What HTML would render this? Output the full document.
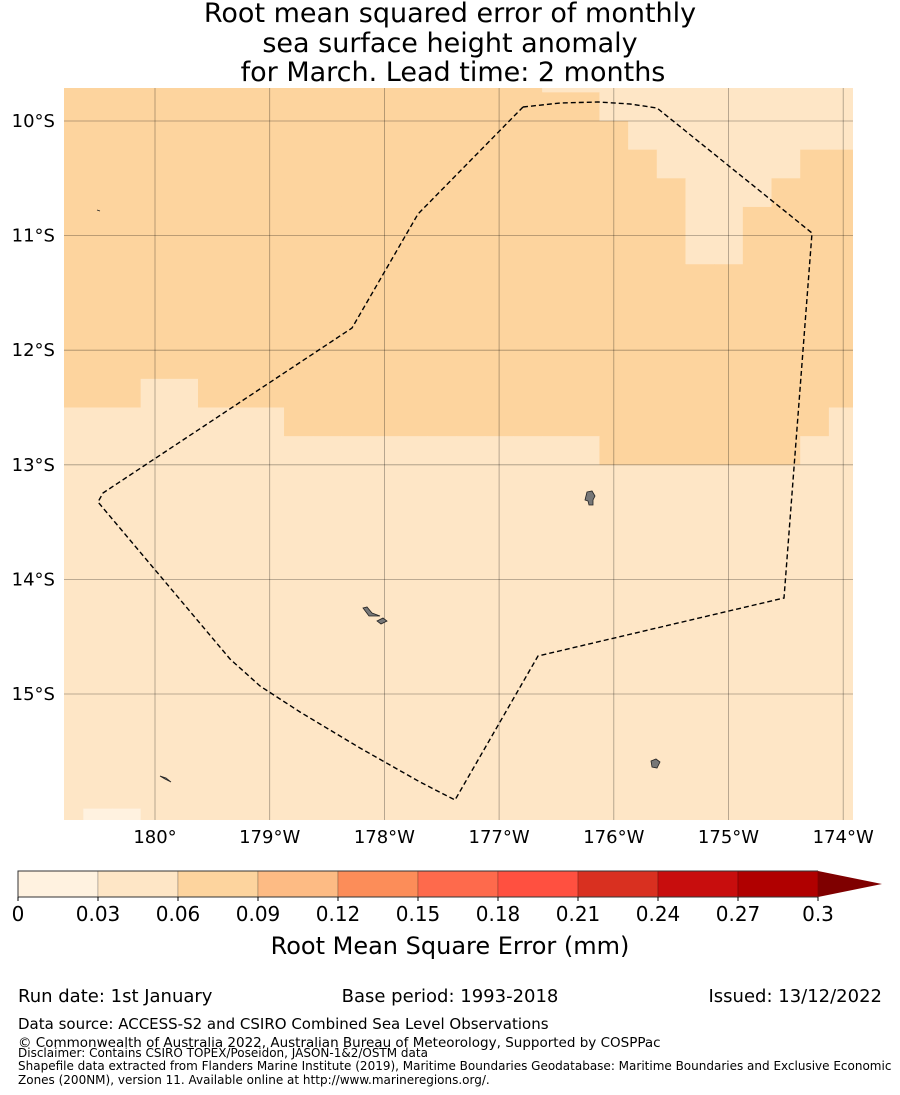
<!DOCTYPE html>
<html><head><meta charset="utf-8"><style>
body{margin:0;background:#fff;width:900px;height:1095px;overflow:hidden;font-family:"Liberation Sans","DejaVu Sans",sans-serif}
svg{position:absolute;left:0;top:0}
text{font-family:"DejaVu Sans","Liberation Sans",sans-serif;fill:#000}
</style></head><body>
<svg id="chart" width="900" height="1095" viewBox="0 0 900 1095">
<g font-size="27" text-anchor="middle">
<text x="450" y="22">Root mean squared error of monthly</text>
<text x="450" y="52">sea surface height anomaly</text>
<text x="453" y="81">for March. Lead time: 2 months</text>
</g>
<defs><clipPath id="mapclip"><rect x="64" y="88" width="789" height="732"/></clipPath></defs>
<g id="cells" clip-path="url(#mapclip)"></g>
<g id="grid" clip-path="url(#mapclip)"></g>
<g fill="#777" stroke="#222" stroke-width="0.8">
<path d="M587,492 L592,491 L595,496 L593,500 L593,505 L589,505 L588,501 L585,500 Z"/>
<path d="M363,608 L367,607 L372,613 L380,616 L369,616 Z"/>
<path d="M377,621 L383,618 L387,621 L381,624 Z"/>
<path d="M651,761 L656,759 L660,762 L657,768 L652,767 Z"/>
<path d="M160,776 L166,778 L171,782 L165,779 Z"/>
<path d="M97,210 L100,211"/>
</g>
<polyline fill="none" stroke="#000" stroke-width="1.4" stroke-dasharray="5,3"
points="523,107 560,103 598,102 630,104 657,108 812,233 784,598 538,656 455,800 420,782 360,748 300,712 260,686 230,659 98,502 103,493 352,328 418,214 523,107"/>
<g id="latlabels" font-size="18" text-anchor="end"></g>
<g id="lonlabels" font-size="18" text-anchor="middle"></g>
<g id="cbar"></g>
<text x="450" y="954" font-size="24" text-anchor="middle">Root Mean Square Error (mm)</text>
<g>
<text x="18" y="1002" font-size="18">Run date: 1st January</text>
<text x="450" y="1002" font-size="18" text-anchor="middle">Base period: 1993-2018</text>
<text x="882" y="1002" font-size="18" text-anchor="end">Issued: 13/12/2022</text>
<text x="18" y="1029" font-size="15">Data source: ACCESS-S2 and CSIRO Combined Sea Level Observations</text>
<text x="18" y="1047" font-size="13.5">© Commonwealth of Australia 2022, Australian Bureau of Meteorology, Supported by COSPPac</text>
<text x="18" y="1057" font-size="12">Disclaimer: Contains CSIRO TOPEX/Poseidon, JASON-1&amp;2/OSTM data</text>
<text x="18" y="1070" font-size="12">Shapefile data extracted from Flanders Marine Institute (2019), Maritime Boundaries Geodatabase: Maritime Boundaries and Exclusive Economic</text>
<text x="18" y="1084" font-size="12">Zones (200NM), version 11. Available online at http://www.marineregions.org/.</text>
</g>
</svg>
<script>
const levels = ['a','b','c'];
const levelColors = {a:'#fff2e0', b:'#fee6c6', c:'#fdd49e'};
const gridRows = [
"ccccccccccccccccc" + "bbbbbbbbbbb",
"ccccccccccccccccccc" + "bbbbbbbbb",
"cccccccccccccccccccc" + "bbbbbbbb",
"ccccccccccccccccccccc" + "bbbbb" + "cc",
"cccccccccccccccccccccc" + "bbb" + "ccc",
"cccccccccccccccccccccc" + "bb" + "cccc",
"cccccccccccccccccccccc" + "bb" + "cccc",
"cccccccccccccccccccccccccccc",
"cccccccccccccccccccccccccccc",
"cccccccccccccccccccccccccccc",
"cccccccccccccccccccccccccccc",
"ccc" + "bb" + "ccccccccccccccccccccccc",
"bbbbbbbb" + "ccccccccccccccccccc" + "b",
"bbbbbbbbbbbbbbbbbbb" + "ccccccc" + "bb",
"bbbbbbbbbbbbbbbbbbbbbbbbbbbb",
"bbbbbbbbbbbbbbbbbbbbbbbbbbbb",
"bbbbbbbbbbbbbbbbbbbbbbbbbbbb",
"bbbbbbbbbbbbbbbbbbbbbbbbbbbb",
"bbbbbbbbbbbbbbbbbbbbbbbbbbbb",
"bbbbbbbbbbbbbbbbbbbbbbbbbbbb",
"bbbbbbbbbbbbbbbbbbbbbbbbbbbb",
"bbbbbbbbbbbbbbbbbbbbbbbbbbbb",
"bbbbbbbbbbbbbbbbbbbbbbbbbbbb",
"bbbbbbbbbbbbbbbbbbbbbbbbbbbb",
"bbbbbbbbbbbbbbbbbbbbbbbbbbbb",
"bbbbbbbbbbbbbbbbbbbbbbbbbbbb",
"b" + "aa" + "bbbbbbbbbbbbbbbbbbbbbbbbb"
];
const latTicks = [10,11,12,13,14,15];
const latLabels = ["10°S","11°S","12°S","13°S","14°S","15°S"];
const lonTicks = [180,181,182,183,184,185,186];
const lonLabels = ["180°","179°W","178°W","177°W","176°W","175°W","174°W"];
const cbarBounds = [0,0.03,0.06,0.09,0.12,0.15,0.18,0.21,0.24,0.27,0.3];
const cbarLabels = ["0","0.03","0.06","0.09","0.12","0.15","0.18","0.21","0.24","0.27","0.3"];
const cbarColors = ['#fff2e0','#fee6c6','#fdd49e','#fdbb84','#fc8d59','#fe6a4c','#ff5040','#d93020','#c80d0d','#b00000'];

const NS='http://www.w3.org/2000/svg';
const xLon = lon => 155 + (lon-180)*114.7;
const yLat = lat => 121 + (lat-10)*114.6;
const cellW = 114.7/4, cellH = 114.6/4;
const xCell = c => xLon(183.875) - (19-c)*cellW;
const yCell = r => yLat(10) - (2-r)*cellH;
function mk(tag, attrs, parent){const e=document.createElementNS(NS,tag);for(const k in attrs)e.setAttribute(k,attrs[k]);parent.appendChild(e);return e;}

const cells=document.getElementById('cells');
gridRows.forEach((row,r)=>{
  for(let c=0;c<row.length;c++){
    const e=mk('rect',{x:xCell(c),y:yCell(r),width:cellW+0.5,height:cellH+0.5,fill:levelColors[row[c]]},cells);
    
    
  }
});
const grid=document.getElementById('grid');
const ll=document.getElementById('latlabels');
latTicks.forEach((t,i)=>{
  const y=yLat(t);
  const l=mk('line',{x1:64,x2:853,y1:y,y2:y,stroke:'#000','stroke-opacity':0.35,'stroke-width':0.8},grid);
  
  
  const tx=mk('text',{x:55,y:y+6},ll);tx.textContent=latLabels[i];
  
  
});
const lo=document.getElementById('lonlabels');
lonTicks.forEach((t,i)=>{
  const x=xLon(t);
  const l=mk('line',{x1:x,x2:x,y1:88,y2:820,stroke:'#000','stroke-opacity':0.35,'stroke-width':0.8},grid);
  
  
  const tx=mk('text',{x:x,y:843},lo);tx.textContent=lonLabels[i];
  
  
});
const cb=document.getElementById('cbar');
const xCb = v => 18 + v/0.3*800;
cbarColors.forEach((col,i)=>{
  const e=mk('rect',{x:xCb(cbarBounds[i]),y:871,width:xCb(cbarBounds[i+1])-xCb(cbarBounds[i]),height:26,fill:col,stroke:'rgba(0,0,0,0.25)','stroke-width':0.8},cb);
  
  
});
const ar=mk('polygon',{points:`${xCb(0.3)},871 882,884 ${xCb(0.3)},897`,fill:'#7f0000'},cb);


const ol=mk('polyline',{points:`${xCb(0.3)},871 18,871 18,897 ${xCb(0.3)},897`,fill:'none',stroke:'#333','stroke-width':1},cb);


cbarLabels.forEach((lab,i)=>{
  const x=xCb(cbarBounds[i]);
  mk('line',{x1:x,x2:x,y1:897,y2:901,stroke:'#000'},cb);
  const t=mk('text',{x:x,y:921,'font-size':20,'text-anchor':'middle'},cb);t.textContent=lab;
  
  
});
</script>
</body></html>
